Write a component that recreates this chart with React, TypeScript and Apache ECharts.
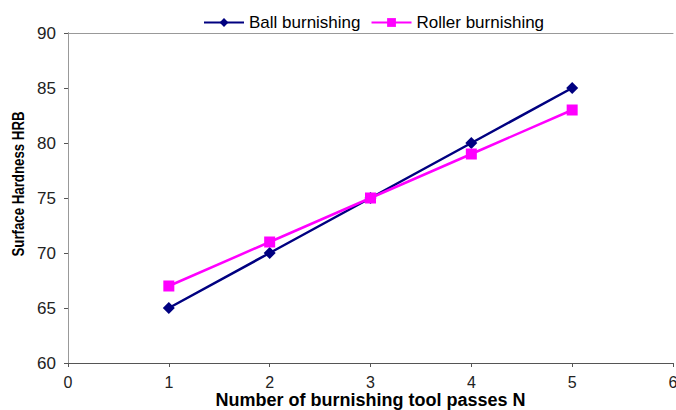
import React, { useEffect, useRef } from "react";
import * as echarts from "echarts";

const passes = [1, 2, 3, 4, 5];
const ballBurnishing = [65, 70, 75, 80, 85];
const rollerBurnishing = [67, 71, 75, 79, 83];
const yTitle = "Surface Hardness HRB";
const xTitle = "Number of burnishing tool passes N";

export default function App() {
  const ref = useRef<HTMLDivElement>(null);
  useEffect(() => {
    const chart = echarts.init(ref.current!, null, { renderer: "svg" });
    const font = "Liberation Sans, Arial, sans-serif";
    chart.setOption({
      animation: false,
      backgroundColor: "#ffffff",
      textStyle: { fontFamily: font },
      graphic: [
        {
          type: "text",
          x: 18,
          y: 184,
          rotation: Math.PI / 2,
          scaleX: 0.78,
          scaleY: 1,
          style: {
            text: yTitle,
            fontFamily: font,
            fontSize: 17,
            fontWeight: "bold",
            fill: "#000",
            align: "center",
            verticalAlign: "middle",
          },
        },
      ],
      legend: {
        top: 9,
        left: 198,
        itemWidth: 40,
        itemHeight: 11,
        itemGap: 10,
        textStyle: { fontFamily: font, fontSize: 17, color: "#000" },
        data: ["Ball burnishing", "Roller burnishing"],
      },
      grid: { left: 68, right: 3, top: 33, bottom: 47, containLabel: false, outerBoundsMode: "none" },
      xAxis: [
        {
          type: "value", min: 0, max: 6, interval: 1,
          name: xTitle, nameLocation: "middle", nameGap: 30, nameMoveOverlap: false,
          nameTextStyle: { fontFamily: font, fontSize: 18, lineHeight: 14, fontWeight: "bold", color: "#000" },
          axisLine: { show: true, lineStyle: { color: "#555", width: 1 } },
          axisTick: { show: true, length: 4, lineStyle: { color: "#555" } },
          axisLabel: { fontFamily: font, fontSize: 16, lineHeight: 14, color: "#222", margin: 12 },
          splitLine: { show: false },
        },
        {
          type: "value", position: "top", min: 0, max: 6, interval: 1,
          axisLine: { show: true, lineStyle: { color: "#999", width: 1 } },
          axisTick: { show: false }, axisLabel: { show: false }, splitLine: { show: false },
        },
      ],
      yAxis: [
        {
          type: "value", min: 60, max: 90, interval: 5,
          axisLine: { show: true, lineStyle: { color: "#555", width: 1 } },
          axisTick: { show: true, length: 4, lineStyle: { color: "#555" } },
          axisLabel: { fontFamily: font, fontSize: 17, color: "#222", margin: 12 },
          splitLine: { show: false },
        },
        {
          type: "value", position: "right", min: 60, max: 90, interval: 5,
          axisLine: { show: true, lineStyle: { color: "#999", width: 1 } },
          axisTick: { show: false }, axisLabel: { show: false }, splitLine: { show: false },
        },
      ],
      series: [
        {
          name: "Ball burnishing", type: "line",
          data: passes.map((p, i) => [p, ballBurnishing[i]]),
          symbol: "diamond", symbolSize: 12,
          lineStyle: { color: "#000080", width: 2.5 }, itemStyle: { color: "#000080" },
        },
        {
          name: "Roller burnishing", type: "line",
          data: passes.map((p, i) => [p, rollerBurnishing[i]]),
          symbol: "rect", symbolSize: 11,
          lineStyle: { color: "#ff00ff", width: 2.5 }, itemStyle: { color: "#ff00ff" },
        },
      ],
    });
    return () => chart.dispose();
  }, []);
  return <div ref={ref} style={{ width: 676, height: 410, position: "absolute", left: 0, top: 0 }} />;
}
